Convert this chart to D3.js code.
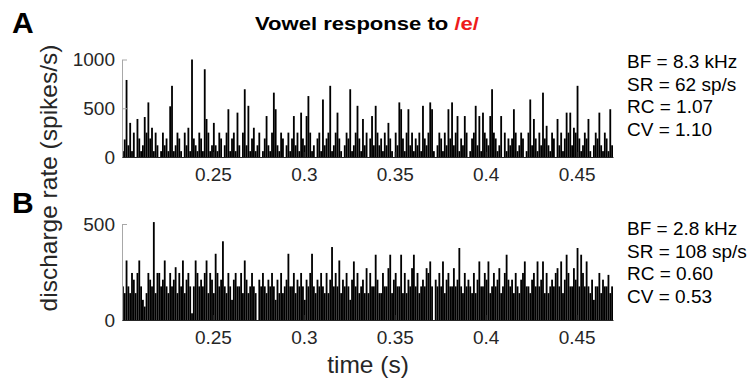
<!DOCTYPE html>
<html><head><meta charset="utf-8">
<script src="https://cdn.jsdelivr.net/npm/d3@7"></script>
<style>body{margin:0;background:#fff}svg{display:block}</style>
</head><body><svg id="c" width="749" height="381"></svg>
<script>
// ---- data ----
const binStart = 0.2;          // s
const binWidth = 0.001;        // s
const timeDomain = [0.2, 0.47];
const xTicks = [0.25, 0.3, 0.35, 0.4, 0.45];
const yTicksA = [0, 500, 1000];
const yTicksB = [0, 500];
const yMaxA = 1000;
const yMaxB = 500;

const rateA = [
  60,180,790,120,350,60,250,0,390,190,
  60,120,410,250,560,190,300,60,250,120,
  0,60,250,120,190,60,520,730,60,120,
  250,190,60,0,250,120,300,60,1000,190,
  120,60,250,190,60,900,390,250,60,120,
  350,120,60,250,190,0,120,250,490,60,
  190,250,60,455,120,0,250,695,120,525,60,
  190,300,60,120,250,0,60,190,420,120,
  60,250,660,490,120,60,250,190,0,120,
  250,60,190,420,120,250,60,455,190,120,
  420,625,250,60,120,0,190,250,60,590,
  120,190,250,730,60,120,250,455,190,60,
  0,120,250,190,695,60,120,250,525,190,
  60,390,120,250,0,190,420,120,525,250,120,
  190,60,250,120,350,190,60,0,250,120,
  560,490,190,60,250,490,120,250,60,190,
  120,250,60,525,190,120,250,560,490,60,
  0,120,250,190,60,250,120,490,190,560,
  120,250,420,60,190,120,420,250,0,60,
  190,250,525,120,420,60,455,250,190,120,
  420,695,250,190,60,120,420,0,250,60,190,
  120,190,490,250,60,120,250,190,0,60,
  250,590,120,390,190,60,250,120,660,190,
  320,120,60,250,190,0,390,120,250,60,
  190,455,250,455,120,300,250,730,190,60,
  120,250,190,390,60,0,120,250,190,455,
  120,60,250,190,60,490,120
];

const rateB = [
  175,140,310,175,140,245,210,140,245,310,
  175,105,70,140,245,210,175,510,140,245,
  245,175,210,310,175,140,245,175,210,275,
  140,245,175,310,140,210,245,175,35,175,
  310,245,175,210,175,245,310,140,245,210,
  140,345,245,175,210,410,175,140,245,175,
  105,210,245,175,175,245,140,310,210,140,175,
  245,175,140,0,210,175,245,175,140,210,
  175,245,175,105,210,140,245,140,175,210,
  345,175,175,245,140,210,175,245,175,105,
  210,175,245,345,175,140,210,175,245,175,
  140,245,140,210,380,175,245,175,310,140,
  210,175,245,175,105,210,305,175,245,140,
  175,210,140,270,140,245,175,175,340,210,140,
  140,245,175,175,270,340,140,210,245,175,
  175,340,140,245,140,210,175,270,340,175,
  245,140,175,210,175,270,245,305,175,0,
  210,175,245,175,305,140,210,245,175,175,
  270,175,210,375,175,140,245,175,210,175,
  140,245,140,210,305,175,175,245,210,305,
  140,175,245,175,210,270,140,175,245,340,210,
  175,210,140,245,175,140,210,245,305,175,
  175,140,210,245,175,305,175,210,305,140,
  245,140,175,210,175,245,270,175,305,140,
  210,340,245,175,175,270,210,375,175,340,
  245,175,305,175,140,210,105,175,175,245,
  140,210,175,175,235,140,175
];

const statsA = ["BF = 8.3 kHz", "SR = 62 sp/s", "RC = 1.07", "CV = 1.10"];
const statsB = ["BF = 2.8 kHz", "SR = 108 sp/s", "RC = 0.60", "CV = 0.53"];
const titleMain = "Vowel response to ";
const titleVowel = "/e/";
const xLabel = "time (s)";
const yLabel = "discharge rate (spikes/s)";

// ---- drawing ----
const FONT = "'Liberation Sans', Arial, Helvetica, sans-serif";
const svg = d3.select("#c").style("font-family", FONT);
svg.append("rect").attr("width", 749).attr("height", 381).attr("fill", "#fff");

const x = d3.scaleLinear().domain(timeDomain).range([122, 613]);

function panel(values, yMax, yTicks, y0, y1, letter, letterY, stats, statsY) {
  const y = d3.scaleLinear().domain([0, yMax]).range([y0, y1]);
  const g = svg.append("g");
  g.selectAll("rect.bar").data(values).join("rect")
    .attr("class", "bar")
    .attr("x", (d, i) => x(binStart + i * binWidth))
    .attr("width", (d, i) => x(binStart + (i + 1) * binWidth) - x(binStart + i * binWidth))
    .attr("y", d => y(d))
    .attr("height", d => y(0) - y(d))
    .attr("fill", "#000");

  const ya = g.append("g").attr("transform", `translate(${x(timeDomain[0])},0)`)
    .call(d3.axisLeft(y).tickValues(yTicks).tickSizeInner(-5).tickSizeOuter(0).tickPadding(7)
      .tickFormat(d3.format("d")));
  ya.select(".domain").attr("stroke", "#a8a8a8");
  ya.selectAll(".tick line").attr("stroke", "#a8a8a8");
  ya.selectAll("text").attr("font-size", 19).attr("fill", "#262626").attr("font-family", FONT);

  const xa = g.append("g").attr("transform", `translate(0,${y0})`)
    .call(d3.axisBottom(x).tickValues(xTicks).tickSizeInner(-5).tickSizeOuter(0).tickPadding(11)
      .tickFormat(d => String(d)));
  xa.select(".domain").attr("stroke", "#262626");
  xa.selectAll(".tick line").attr("stroke", "#262626");
  xa.selectAll("text").attr("font-size", 19).attr("fill", "#262626").attr("font-family", FONT);

  svg.append("text").attr("x", 12).attr("y", letterY).text(letter)
    .attr("font-size", 30).attr("font-weight", "bold").attr("fill", "#000");

  svg.append("g").selectAll("text").data(stats).join("text")
    .attr("x", 627).attr("y", (d, i) => statsY + i * 22.5)
    .attr("font-size", 19).attr("fill", "#000").text(d => d);
}

panel(rateA, yMaxA, yTicksA, 157, 59.5, "A", 33, statsA, 68);
panel(rateB, yMaxB, yTicksB, 320, 224, "B", 213, statsB, 235);

const t = svg.append("text").attr("x", 367).attr("y", 30).attr("text-anchor", "middle")
  .attr("font-size", 18).attr("font-weight", "bold").attr("fill", "#000")
  .attr("textLength", 224).attr("lengthAdjust", "spacingAndGlyphs");
t.append("tspan").text(titleMain);
t.append("tspan").attr("fill", "#ee1b1b").text(titleVowel);

svg.append("text").attr("x", 368).attr("y", 373).attr("text-anchor", "middle")
  .attr("font-size", 24.5).attr("fill", "#262626").text(xLabel);

svg.append("text").attr("transform", "translate(57,178) rotate(-90)").attr("text-anchor", "middle")
  .attr("font-size", 24.5).attr("fill", "#262626").text(yLabel);
</script></body></html>
